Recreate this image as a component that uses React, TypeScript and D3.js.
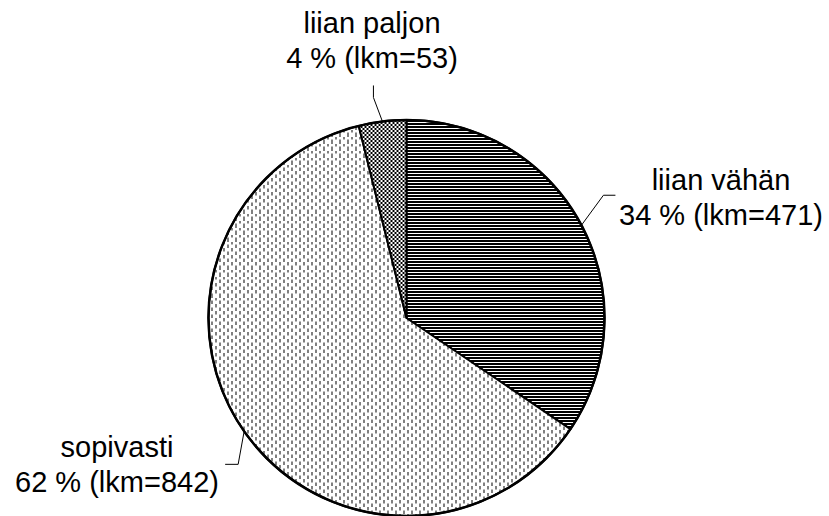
import React from "react";
import * as d3 from "d3";

const categories = ["liian vähän", "sopivasti", "liian paljon"];
const counts = [471, 842, 53];
const percentLabels = ["34 %", "62 %", "4 %"];

const W = 829;
const H = 516;
const cx = 406.5;
const cy = 318;
const R = 198;
const FONT = "'Liberation Sans', Arial, Helvetica, sans-serif";
const FS = 29;

const patternIds = ["pHoriz", "pDash", "pCheck"];

// label layout: elbow offset from anchor, end point, text anchor position
const labelLayout = [
  { elbow: [22, -30], end: [34, -30], tx: 721, ty: 190, anchor: "middle" },
  { elbow: [-6, 33], end: [-19, 33], tx: 117, ty: 457, anchor: "middle" },
  { elbow: [-9, -24], end: [-9, -36], tx: 372, ty: 33, anchor: "middle" },
];

export default function App() {
  const pie = d3
    .pie<number>()
    .sort(null)
    .value((d) => d)
    .startAngle(0)
    .endAngle(2 * Math.PI);
  const arcs = pie(counts);
  const arc = d3.arc<d3.PieArcDatum<number>>().innerRadius(0).outerRadius(R);
  const edgeArc = d3.arc<d3.PieArcDatum<number>>().innerRadius(R).outerRadius(R);

  return (
    <svg
      width={W}
      height={H}
      style={{ position: "absolute", left: 0, top: 0, background: "#fff" }}
    >
      <defs>
        <pattern id="pHoriz" patternUnits="userSpaceOnUse" width={4} height={3}>
          <rect x={0} y={0} width={4} height={3} fill="#fff" />
          <rect x={0} y={0} width={4} height={2} fill="#000" />
        </pattern>
        <pattern id="pDash" patternUnits="userSpaceOnUse" width={8} height={7}>
          <rect x={0} y={0} width={8} height={7} fill="#fff" />
          <rect x={1} y={0} width={1} height={3.5} fill="#000" />
          <rect x={5} y={3.5} width={1} height={3.5} fill="#000" />
        </pattern>
        <pattern id="pCheck" patternUnits="userSpaceOnUse" width={4} height={4}>
          <rect x={0} y={0} width={4} height={4} fill="#000" />
          <rect x={0} y={0} width={2} height={2} fill="#fff" />
          <rect x={2} y={2} width={2} height={2} fill="#fff" />
        </pattern>
      </defs>
      <g transform={`translate(${cx},${cy})`}>
        {arcs.map((a, i) => (
          <path
            key={categories[i]}
            d={arc(a) || ""}
            fill={`url(#${patternIds[i]})`}
            stroke="#000"
            strokeWidth={2}
            strokeLinejoin="round"
          />
        ))}
        <circle r={R} fill="none" stroke="#000" strokeWidth={2.5} />
        {arcs.map((a, i) => {
          const [ax, ay] = edgeArc.centroid(a);
          const L = labelLayout[i];
          const pts = [
            [ax, ay],
            [ax + L.elbow[0], ay + L.elbow[1]],
            [ax + L.end[0], ay + L.end[1]],
          ];
          return (
            <polyline
              key={"l" + i}
              points={pts.map((p) => p.join(",")).join(" ")}
              fill="none"
              stroke="#000"
              strokeWidth={1}
            />
          );
        })}
      </g>
      {arcs.map((a, i) => {
        const L = labelLayout[i];
        return (
          <text
            key={"t" + i}
            x={L.tx}
            y={L.ty}
            textAnchor={L.anchor as any}
            fontFamily={FONT}
            fontSize={FS}
            fill="#000"
          >
            <tspan x={L.tx}>{categories[i]}</tspan>
            <tspan x={L.tx} dy={35}>
              {`${percentLabels[i]} (lkm=${counts[i]})`}
            </tspan>
          </text>
        );
      })}
    </svg>
  );
}
